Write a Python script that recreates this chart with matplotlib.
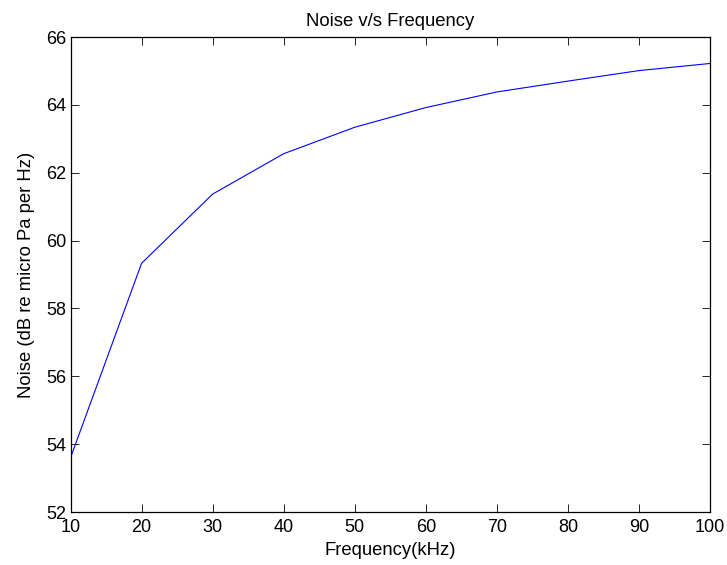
import matplotlib
matplotlib.use("Agg")
import matplotlib.pyplot as plt

freq_khz = [10, 20, 30, 40, 50, 60, 70, 80, 90, 100]
noise_db = [53.60, 59.33, 61.37, 62.56, 63.34, 63.92, 64.38, 64.70, 65.01, 65.22]
x_ticks = [10, 20, 30, 40, 50, 60, 70, 80, 90, 100]
y_ticks = [52, 54, 56, 58, 60, 62, 64, 66]

plt.rcParams['font.family'] = ['Liberation Sans', 'DejaVu Sans']

fig = plt.figure(figsize=(7.27, 5.65), dpi=100)
ax = fig.add_axes([0.097, 0.0938, 0.8796, 0.8407])
ax.plot(freq_khz, noise_db, color='#0000ff', linewidth=0.8)
ax.set_xlim(10, 100)
ax.set_ylim(52, 66)
ax.set_xticks(x_ticks)
ax.set_yticks(y_ticks)
ax.tick_params(direction='in', length=6, width=0.6, top=True, right=True,
               labelsize=13)
ax.tick_params(axis='x', pad=5)
ax.tick_params(axis='y', pad=3)
for s in ax.spines.values():
    s.set_linewidth(0.9)
ax.set_title('Noise v/s Frequency', fontsize=13.3, pad=8)
ax.set_xlabel('Frequency(kHz)', fontsize=13.3, labelpad=4)
ax.set_ylabel('Noise (dB re micro Pa per Hz)', fontsize=13.3, labelpad=8)
fig.savefig('out.png', dpi=100)
